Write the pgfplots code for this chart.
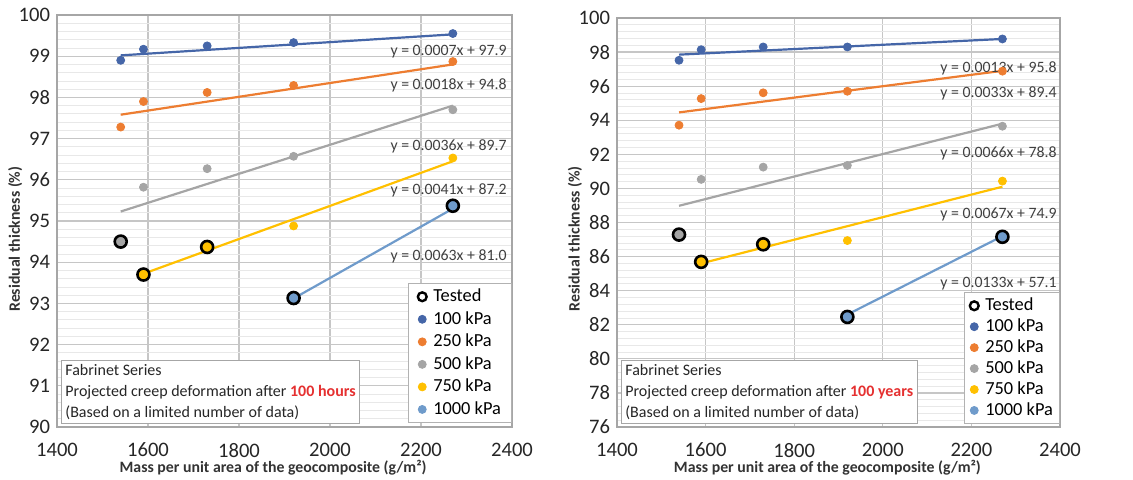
\documentclass[border=0pt]{standalone}
\usepackage{fontspec}
\setmainfont{Carlito}
\usepackage{pgfplots}
\pgfplotsset{compat=1.18}
\definecolor{cA}{HTML}{4566A8}
\definecolor{cB}{HTML}{ED7D31}
\definecolor{cC}{HTML}{A5A5A5}
\definecolor{cD}{HTML}{FFC000}
\definecolor{cE}{HTML}{6F9BCB}
\definecolor{txt}{HTML}{404040}
\definecolor{hl}{HTML}{E53030}
\tikzset{
 eq/.style={anchor=east, inner sep=0pt, font=\fontsize{7.9bp}{9bp}\selectfont, text=txt},
 bx/.style={anchor=south west, draw=gray!70, fill=white, align=left, inner sep=2bp,
   font=\fontsize{8bp}{10.5bp}\selectfont, text=black!85},
}
\pgfplotsset{
 exstyle/.style={
  scale only axis, xmin=1400, xmax=2400, xtick={1400,1600,...,2400},
  grid=both, minor y tick num=4,
  major grid style={gray!45, line width=0.6bp},
  minor grid style={gray!18, line width=0.4bp},
  axis line style={gray!70, line width=0.8bp},
  major tick length=0pt, minor tick length=0pt,
  tick label style={font=\fontsize{10.3bp}{12bp}\selectfont, text=black!85},
  xticklabel style={yshift=-4.5bp},
  /pgf/number format/assume math mode=true,
  /pgf/number format/1000 sep={},
  xlabel={Mass per unit area of the geocomposite (g/m²)},
  ylabel={Residual thickness (\%)},
  label style={font=\fontsize{7.9bp}{9bp}\selectfont\bfseries, text=black!80},
  xlabel style={at={(rel axis cs:0.475,0)}, anchor=center, yshift=-20.5bp},
  legend cell align=left,
  legend style={draw=gray!60, fill=white, font=\fontsize{9.2bp}{10bp}\selectfont,
    row sep=1.1bp, inner xsep=4.5bp, inner ysep=1.5bp,
    nodes={inner sep=0.8bp, text height=0.68em, text depth=0.18em},
    /tikz/every odd column/.append style={column sep=2.5bp}},
 },
 tr/.style={no marks, line width=1.1bp, forget plot},
 pt/.style={only marks, mark=*, mark size=2bp, mark options={draw=#1, fill=#1}},
 ts/.style={only marks, mark=*, mark size=3bp, forget plot, mark options={draw=black, fill=#1, line width=1.3bp}},
}
\begin{document}
\begin{tikzpicture}
\useasboundingbox (0,0) rectangle (566.5bp,240bp);
% ---------------- left: 100 hours
\begin{axis}[exstyle, at={(28.5bp,26.5bp)}, anchor=south west,
  width=227.5bp, height=206bp, ymin=90, ymax=100, ytick={90,91,...,100},
  ylabel style={at={(rel axis cs:-0.092,0.456)}, anchor=center},
  legend style={at={(rel axis cs:1,0.0097)}, anchor=south east}]
\addplot[tr, cA] coordinates {(1540,99.02) (2270,99.53)};
\addplot[tr, cB] coordinates {(1540,97.58) (2270,98.80)};
\addplot[tr, cC] coordinates {(1540,95.23) (2270,97.80)};
\addplot[tr, cD] coordinates {(1590,93.72) (2270,96.45)};
\addplot[tr, cE] coordinates {(1920,93.12) (2270,95.30)};
\addlegendimage{only marks, mark=o, mark size=2.2bp, black, line width=1.2bp}
\addlegendentry{Tested}
\addplot[pt=cA] coordinates {(1540,98.90) (1590,99.17) (1730,99.25) (1920,99.33) (2270,99.55)};
\addlegendentry{100 kPa}
\addplot[pt=cB] coordinates {(1540,97.28) (1590,97.90) (1730,98.12) (1920,98.29) (2270,98.87)};
\addlegendentry{250 kPa}
\addplot[pt=cC] coordinates {(1590,95.82) (1730,96.27) (1920,96.57) (2270,97.70)};
\addlegendentry{500 kPa}
\addplot[pt=cD] coordinates {(1920,94.88) (2270,96.53)};
\addlegendentry{750 kPa}
\addplot[pt=cE] coordinates {(1920,93.13)};
\addlegendentry{1000 kPa}
\addplot[ts=cC] coordinates {(1540,94.50)};
\addplot[ts=cD] coordinates {(1590,93.70) (1730,94.37)};
\addplot[ts=cE] coordinates {(1920,93.13) (2270,95.37)};
\node[eq] at (axis cs:2389,99.10) {y = 0.0007x + 97.9};
\node[eq] at (axis cs:2389,98.30) {y = 0.0018x + 94.8};
\node[eq] at (axis cs:2389,96.80) {y = 0.0036x + 89.7};
\node[eq] at (axis cs:2389,95.74) {y = 0.0041x + 87.2};
\node[eq] at (axis cs:2389,94.13) {y = 0.0063x + 81.0};
\node[bx] at (rel axis cs:0.0088,0.0073) {Fabrinet Series\\Projected creep deformation after \textcolor{hl}{\textbf{100 hours}}\\(Based on a limited number of data)};
\end{axis}
% ---------------- right: 100 years
\begin{axis}[exstyle, at={(308.5bp,26.5bp)}, anchor=south west,
  width=221.5bp, height=204.5bp, ymin=76, ymax=100, ytick={76,78,...,100},
  ylabel style={at={(rel axis cs:-0.095,0.46)}, anchor=center},
  legend style={at={(rel axis cs:1,0.0073)}, anchor=south east, row sep=0.3bp, inner xsep=2.5bp}]
\addplot[tr, cA] coordinates {(1540,97.85) (2270,98.77)};
\addplot[tr, cB] coordinates {(1540,94.46) (2270,96.90)};
\addplot[tr, cC] coordinates {(1540,88.98) (2270,93.80)};
\addplot[tr, cD] coordinates {(1590,85.60) (2270,90.10)};
\addplot[tr, cE] coordinates {(1920,82.60) (2270,87.20)};
\addlegendimage{only marks, mark=o, mark size=2.2bp, black, line width=1.2bp}
\addlegendentry{Tested}
\addplot[pt=cA] coordinates {(1540,97.52) (1590,98.14) (1730,98.30) (1920,98.30) (2270,98.77)};
\addlegendentry{100 kPa}
\addplot[pt=cB] coordinates {(1540,93.71) (1590,95.27) (1730,95.61) (1920,95.70) (2270,96.88)};
\addlegendentry{250 kPa}
\addplot[pt=cC] coordinates {(1590,90.53) (1730,91.25) (1920,91.35) (2270,93.65)};
\addlegendentry{500 kPa}
\addplot[pt=cD] coordinates {(1920,86.94) (2270,90.43)};
\addlegendentry{750 kPa}
\addplot[pt=cE] coordinates {(1920,82.46)};
\addlegendentry{1000 kPa}
\addplot[ts=cC] coordinates {(1540,87.29)};
\addplot[ts=cD] coordinates {(1590,85.69) (1730,86.72)};
\addplot[ts=cE] coordinates {(1920,82.46) (2270,87.16)};
\node[eq] at (axis cs:2393,97.07) {y = 0.0013x + 95.8};
\node[eq] at (axis cs:2393,95.60) {y = 0.0033x + 89.4};
\node[eq] at (axis cs:2393,92.05) {y = 0.0066x + 78.8};
\node[eq] at (axis cs:2393,88.48) {y = 0.0067x + 74.9};
\node[eq] at (axis cs:2393,84.40) {y = 0.0133x + 57.1};
\node[bx] at (rel axis cs:0.009,0.0073) {Fabrinet Series\\Projected creep deformation after \textcolor{hl}{\textbf{100 years}}\\(Based on a limited number of data)};
\end{axis}
\end{tikzpicture}
\end{document}
